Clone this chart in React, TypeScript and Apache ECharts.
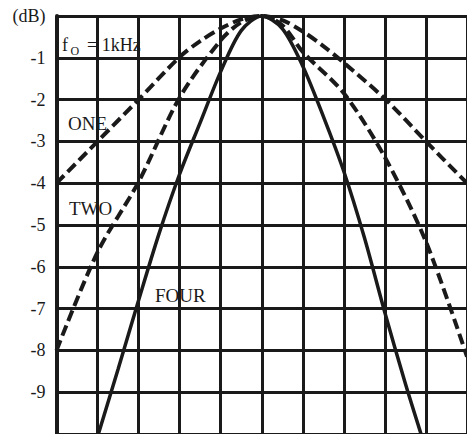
import React, { useEffect, useRef } from "react";
import * as echarts from "echarts";

// Y axis tick labels (index = -value)
const yTickLabels = ["(dB)", "-1", "-2", "-3", "-4", "-5", "-6", "-7", "-8", "-9", ""];

// Curve ONE (dashed)
const oneX = [-5, -4, -3, -2, -1.5, -1, -0.5, 0, 0.5, 1, 1.5, 2, 3, 4, 5];
const oneY = [-4, -3, -2, -0.98, -0.6, -0.3, -0.08, 0, -0.1, -0.37, -0.72, -1.12, -1.98, -3, -4];

// Curve TWO (dashed)
const twoX = [-5, -4, -3, -2, -1, -0.5, 0, 0.5, 1, 2, 3, 4, 5];
const twoY = [-8, -5.65, -3.97, -1.95, -0.58, -0.15, 0, -0.22, -0.86, -1.85, -3.38, -5.4, -8.15];

// Curve FOUR (solid)
const fourX = [-3.98, -3.5, -3, -2.5, -2, -1.5, -1, -0.5, 0, 0.5, 1, 1.5, 2, 2.5, 3, 3.5, 3.88];
const fourY = [-10, -8.45, -6.8, -5.2, -3.78, -2.55, -1.33, -0.35, 0, -0.3, -1.2, -2.4, -3.72, -5.3, -7.1, -8.8, -10];

const zip = (xs: number[], ys: number[]) => xs.map((x, i) => [x, ys[i]]);

const INK = "#1a1a1a";
const SERIF = '"Liberation Serif", "Times New Roman", serif';

export default function App() {
  const ref = useRef<HTMLDivElement>(null);
  useEffect(() => {
    if (!ref.current) return;
    const chart = echarts.init(ref.current, undefined, { renderer: "svg" });
    chart.setOption({
      animation: false,
      backgroundColor: "#ffffff",
      grid: { left: 56.5, top: 16, width: 420, height: 420, containLabel: false },
      xAxis: {
        type: "value",
        min: -5,
        max: 5,
        interval: 1,
        axisLine: { show: false },
        axisTick: { show: false },
        axisLabel: { show: false },
        splitLine: { show: true, lineStyle: { color: INK, width: 3 } },
      },
      yAxis: {
        type: "value",
        min: -10,
        max: 0,
        interval: 1,
        axisLine: { show: true, onZero: false, lineStyle: { color: INK, width: 4 } },
        axisTick: { show: false },
        axisLabel: {
          show: true,
          margin: 11,
          padding: [4, 0, 0, 0],
          color: INK,
          fontFamily: SERIF,
          fontSize: 18,
          formatter: (v: number) => yTickLabels[Math.round(-v)] ?? "",
        },
        splitLine: { show: true, lineStyle: { color: INK, width: 3 } },
      },
      series: [
        {
          name: "ONE",
          type: "line",
          data: zip(oneX, oneY),
          smooth: 0.3,
          showSymbol: false,
          lineStyle: { color: INK, width: 4, type: [11, 5] },
          z: 3,
        },
        {
          name: "TWO",
          type: "line",
          data: zip(twoX, twoY),
          smooth: 0.3,
          showSymbol: false,
          lineStyle: { color: INK, width: 4, type: [11, 5] },
          z: 3,
        },
        {
          name: "FOUR",
          type: "line",
          data: zip(fourX, fourY),
          smooth: 0.3,
          showSymbol: false,
          lineStyle: { color: INK, width: 3.5 },
          z: 3,
        },
      ],
      graphic: [
        { type: "text", x: 62, y: 44.5, style: { text: "f", font: `18px ${SERIF}`, fill: INK, align: "left", verticalAlign: "middle" } },
        { type: "text", x: 70.5, y: 51, style: { text: "O", font: `12px ${SERIF}`, fill: INK, align: "left", verticalAlign: "middle" } },
        { type: "text", x: 87, y: 44.5, style: { text: "= 1kHz", font: `18px ${SERIF}`, fill: INK, align: "left", verticalAlign: "middle" } },
        { type: "text", x: 68, y: 123.5, style: { text: "ONE", font: `19px ${SERIF}`, fill: INK, align: "left", verticalAlign: "middle" } },
        { type: "text", x: 69, y: 208, style: { text: "TWO", font: `19px ${SERIF}`, fill: INK, align: "left", verticalAlign: "middle" } },
        { type: "text", x: 155, y: 295.5, style: { text: "FOUR", font: `19px ${SERIF}`, fill: INK, align: "left", verticalAlign: "middle" } },
      ],
    });
    return () => chart.dispose();
  }, []);
  return (
    <div
      ref={ref}
      style={{ position: "absolute", left: 0, top: 0, width: 467, height: 434, background: "#fff" }}
    />
  );
}
